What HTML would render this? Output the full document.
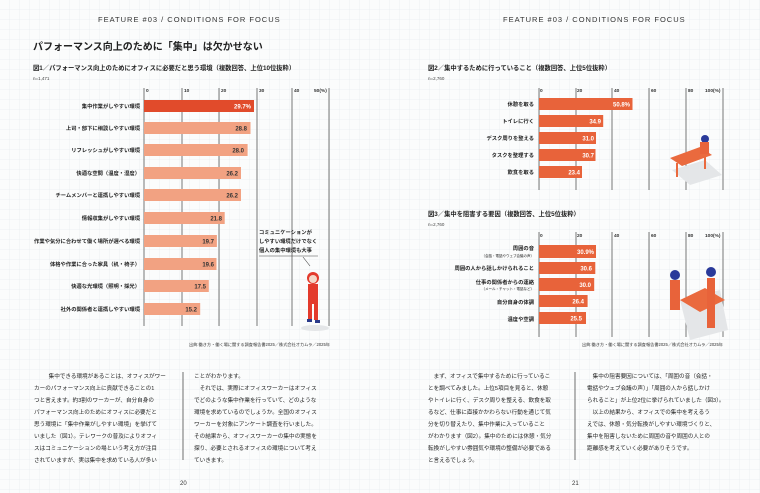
<!DOCTYPE html>
<html><head><meta charset="utf-8"><style>
html,body{margin:0;padding:0;}
body{width:760px;height:493px;overflow:hidden;background:#fbfcfc;}
svg{display:block;font-family:"Liberation Sans","Noto Sans CJK JP",sans-serif;}
</style></head><body>
<svg width="760" height="493" viewBox="0 0 760 493" xmlns="http://www.w3.org/2000/svg">
<defs>
<pattern id="g" width="10" height="10" patternUnits="userSpaceOnUse">
<rect width="10" height="10" fill="#fbfcfc"/>
<path d="M10 0V10M0 10H10" stroke="#e9eef0" stroke-width="0.8"/>
</pattern>
</defs>
<rect width="760" height="493" fill="url(#g)"/>

<!-- headers -->
<text x="98" y="22" font-size="7.5" letter-spacing="1" fill="#333">FEATURE #03 / CONDITIONS FOR FOCUS</text>
<text x="503" y="22" font-size="7.5" letter-spacing="1" fill="#333">FEATURE #03 / CONDITIONS FOR FOCUS</text>
<text x="33" y="50" font-size="10" font-weight="bold" fill="#222">パフォーマンス向上のために「集中」は欠かせない</text>

<!-- Chart 1 -->
<text x="33" y="70" font-size="6.3" font-weight="bold" fill="#222">図1／パフォーマンス向上のためにオフィスに必要だと思う環境（複数回答、上位10位抜粋）</text>
<text x="33" y="80" font-size="4.5" fill="#444">n=1,471</text>
<g stroke="#777" stroke-width="1">
<line x1="144" y1="88" x2="144" y2="326"/><line x1="182" y1="88" x2="182" y2="326"/>
<line x1="219" y1="88" x2="219" y2="326"/><line x1="257" y1="88" x2="257" y2="326"/>
<line x1="292" y1="88" x2="292" y2="326"/><line x1="329" y1="88" x2="329" y2="326"/>
</g>
<g font-size="4.8" font-weight="bold" fill="#333">
<text x="146" y="92">0</text><text x="184" y="92">10</text><text x="221" y="92">20</text>
<text x="259" y="92">30</text><text x="294" y="92">40</text><text x="314" y="92">50(%)</text>
</g>
<rect x="144" y="100" width="110" height="12" fill="#e14b2b"/>
<g fill="#f2a282">
<rect x="144" y="122" width="106.5" height="12"/>
<rect x="144" y="144" width="103.6" height="12"/>
<rect x="144" y="167" width="97" height="12"/>
<rect x="144" y="189" width="97" height="12"/>
<rect x="144" y="212" width="80.7" height="12"/>
<rect x="144" y="235" width="72.9" height="12"/>
<rect x="144" y="258" width="72.5" height="12"/>
<rect x="144" y="280" width="64.8" height="12"/>
<rect x="144" y="303" width="56.2" height="12"/>
</g>
<g font-size="6" font-weight="bold" text-anchor="end">
<text x="251" y="108.5" fill="#fff">29.7%</text>
<g fill="#333">
<text x="247" y="130.5">28.8</text><text x="244" y="152.5">28.0</text>
<text x="238" y="175.5">26.2</text><text x="238" y="197.5">26.2</text>
<text x="222" y="220.5">21.8</text><text x="214" y="243.5">19.7</text>
<text x="214" y="266.5">19.6</text><text x="206" y="288.5">17.5</text>
<text x="197" y="311.5">15.2</text>
</g></g>
<g font-size="5.3" font-weight="bold" fill="#222" text-anchor="end">
<text x="140" y="108">集中作業がしやすい環境</text>
<text x="140" y="130">上司・部下に相談しやすい環境</text>
<text x="140" y="152">リフレッシュがしやすい環境</text>
<text x="140" y="175">快適な空間（温度・湿度）</text>
<text x="140" y="197">チームメンバーと連携しやすい環境</text>
<text x="140" y="220">情報収集がしやすい環境</text>
<text x="140" y="243">作業や気分に合わせて働く場所が選べる環境</text>
<text x="140" y="266">体格や作業に合った家具（机・椅子）</text>
<text x="140" y="288">快適な光環境（照明・採光）</text>
<text x="140" y="311">社外の関係者と連携しやすい環境</text>
</g>
<g font-size="5.3" font-weight="bold" fill="#222">
<text x="259" y="234">コミュニケーションが</text>
<text x="259" y="243">しやすい環境だけでなく</text>
<text x="259" y="252">個人の集中環境も大事</text>
</g>
<line x1="259" y1="256" x2="318" y2="256" stroke="#444" stroke-width="0.6"/>
<line x1="303" y1="257" x2="310" y2="266" stroke="#444" stroke-width="0.6"/>
<ellipse cx="315" cy="328" rx="14" ry="3" fill="#e4e6e8"/>
<circle cx="313" cy="278" r="6" fill="#e33a2c"/><circle cx="313" cy="279" r="4" fill="#f4d8c8"/>
<rect x="308" y="284" width="10" height="20" fill="#e33a2c"/>
<rect x="308" y="304" width="4" height="16" fill="#e33a2c"/><rect x="314" y="304" width="4" height="16" fill="#e33a2c"/>
<rect x="307" y="319" width="5" height="3" fill="#2a3a8a"/><rect x="315" y="320" width="5" height="3" fill="#2a3a8a"/>
<text x="330" y="346" font-size="4.2" fill="#333" text-anchor="end">出典:働き方・働く場に関する調査報告書2025／株式会社オカムラ／2025年</text>

<!-- Chart 2 -->
<text x="428" y="70" font-size="6.3" font-weight="bold" fill="#222">図2／集中するために行っていること（複数回答、上位5位抜粋）</text>
<text x="428" y="80" font-size="4.5" fill="#444">n=2,760</text>
<g stroke="#777" stroke-width="1">
<line x1="539" y1="88" x2="539" y2="190"/><line x1="576" y1="88" x2="576" y2="190"/>
<line x1="612" y1="88" x2="612" y2="190"/><line x1="649" y1="88" x2="649" y2="190"/>
<line x1="686" y1="88" x2="686" y2="190"/><line x1="723" y1="88" x2="723" y2="190"/>
</g>
<g font-size="4.8" font-weight="bold" fill="#333">
<text x="540" y="92">0</text><text x="577" y="92">20</text><text x="614" y="92">40</text>
<text x="651" y="92">60</text><text x="688" y="92">80</text><text x="705" y="92">100(%)</text>
</g>
<g fill="#e8633a">
<rect x="539" y="98" width="93.5" height="12"/>
<rect x="539" y="115" width="64.2" height="12"/>
<rect x="539" y="132" width="57" height="12"/>
<rect x="539" y="149" width="56.5" height="12"/>
<rect x="539" y="166" width="43" height="12"/>
</g>
<g font-size="6" font-weight="bold" fill="#fff" text-anchor="end">
<text x="630" y="106.5">50.8%</text><text x="601" y="123.5">34.9</text>
<text x="594" y="140.5">31.0</text><text x="594" y="157.5">30.7</text><text x="580" y="174.5">23.4</text>
</g>
<g font-size="5.3" font-weight="bold" fill="#222" text-anchor="end">
<text x="534" y="106">休憩を取る</text><text x="534" y="123">トイレに行く</text>
<text x="534" y="140">デスク周りを整える</text><text x="534" y="157">タスクを整理する</text>
<text x="534" y="174">飲食を取る</text>
</g>
<polygon points="672,170 705,160 722,175 690,185" fill="#e4e6e8"/>
<polygon points="670,158 700,147 712,155 682,166" fill="#ea6a3e"/>
<rect x="676" y="163" width="2" height="14" fill="#ea6a3e"/><rect x="704" y="155" width="2" height="14" fill="#ea6a3e"/>
<circle cx="705" cy="139" r="4" fill="#2a3a9a"/><rect x="700" y="142" width="9" height="12" fill="#e8633a"/>

<!-- Chart 3 -->
<text x="428" y="216" font-size="6.3" font-weight="bold" fill="#222">図3／集中を阻害する要因（複数回答、上位5位抜粋）</text>
<text x="428" y="226" font-size="4.5" fill="#444">n=2,760</text>
<g stroke="#777" stroke-width="1">
<line x1="539" y1="232" x2="539" y2="337"/><line x1="576" y1="232" x2="576" y2="337"/>
<line x1="612" y1="232" x2="612" y2="337"/><line x1="649" y1="232" x2="649" y2="337"/>
<line x1="686" y1="232" x2="686" y2="337"/><line x1="723" y1="232" x2="723" y2="337"/>
</g>
<g font-size="4.8" font-weight="bold" fill="#333">
<text x="540" y="237">0</text><text x="577" y="237">20</text><text x="614" y="237">40</text>
<text x="651" y="237">60</text><text x="688" y="237">80</text><text x="705" y="237">100(%)</text>
</g>
<g fill="#e8633a">
<rect x="539" y="245" width="57" height="13"/>
<rect x="539" y="262" width="56.3" height="12"/>
<rect x="539" y="278" width="55.2" height="13"/>
<rect x="539" y="295" width="48.6" height="12"/>
<rect x="539" y="312" width="47" height="12"/>
</g>
<g font-size="6" font-weight="bold" fill="#fff" text-anchor="end">
<text x="594" y="254">30.9%</text><text x="592" y="270.5">30.6</text>
<text x="591" y="287">30.0</text><text x="584" y="303.5">26.4</text><text x="582" y="320.5">25.5</text>
</g>
<g font-size="5.3" font-weight="bold" fill="#222" text-anchor="end">
<text x="534" y="250">周囲の音</text>
<text x="534" y="257" font-size="3.5" font-weight="normal">（会話・電話やウェブ会議の声）</text>
<text x="534" y="270">周囲の人から話しかけられること</text>
<text x="534" y="284">仕事の関係者からの連絡</text>
<text x="534" y="290" font-size="3.5" font-weight="normal">（メール・チャット・電話など）</text>
<text x="534" y="304">自分自身の体調</text>
<text x="534" y="321">温度や空調</text>
</g>
<polygon points="680,300 720,290 728,330 690,340" fill="#e4e6e8"/>
<polygon points="680,300 705,288 725,300 700,312" fill="#ea6a3e"/>
<rect x="670" y="280" width="10" height="30" fill="#e8633a"/><circle cx="675" cy="275" r="5" fill="#2a3a9a"/>
<rect x="707" y="278" width="8" height="50" fill="#e8633a"/><circle cx="711" cy="272" r="5" fill="#2a3a9a"/>
<text x="723" y="346" font-size="4.2" fill="#333" text-anchor="end">出典:働き方・働く場に関する調査報告書2025／株式会社オカムラ／2025年</text>

<!-- body text left -->
<line x1="183" y1="372" x2="183" y2="460" stroke="#333" stroke-width="0.7"/>
<g font-size="5.6" fill="#222">
<text x="43" y="378">　集中できる環境があることは、オフィスがワー</text>
<text x="34" y="390">カーのパフォーマンス向上に貢献できることの1</text>
<text x="34" y="402">つと言えます。約3割のワーカーが、自分自身の</text>
<text x="34" y="414">パフォーマンス向上のためにオフィスに必要だと</text>
<text x="34" y="426">思う環境に「集中作業がしやすい環境」を挙げて</text>
<text x="34" y="438">いました（図1）。テレワークの普及によりオフィ</text>
<text x="34" y="450">スはコミュニケーションの場という考え方が注目</text>
<text x="34" y="462">されていますが、実は集中を求めている人が多い</text>
<text x="194" y="378">ことがわかります。</text>
<text x="194" y="390">　それでは、実際にオフィスワーカーはオフィス</text>
<text x="194" y="402">でどのような集中作業を行っていて、どのような</text>
<text x="194" y="414">環境を求めているのでしょうか。全国のオフィス</text>
<text x="194" y="426">ワーカーを対象にアンケート調査を行いました。</text>
<text x="194" y="438">その結果から、オフィスワーカーの集中の実態を</text>
<text x="194" y="450">探り、必要とされるオフィスの環境について考え</text>
<text x="194" y="462">ていきます。</text>
</g>
<text x="180" y="485" font-size="6" fill="#333">20</text>

<!-- body text right -->
<line x1="575" y1="372" x2="575" y2="460" stroke="#333" stroke-width="0.7"/>
<g font-size="5.6" fill="#222">
<text x="428" y="378">　まず、オフィスで集中するために行っているこ</text>
<text x="428" y="390">とを調べてみました。上位5項目を見ると、休憩</text>
<text x="428" y="402">やトイレに行く、デスク周りを整える、飲食を取</text>
<text x="428" y="414">るなど、仕事に直接かかわらない行動を通じて気</text>
<text x="428" y="426">分を切り替えたり、集中作業に入っていること</text>
<text x="428" y="438">がわかります（図2）。集中のためには休憩・気分</text>
<text x="428" y="450">転換がしやすい雰囲気や環境の整備が必要である</text>
<text x="428" y="462">と言えるでしょう。</text>
<text x="587" y="378">　集中の阻害要因については、「周囲の音（会話・</text>
<text x="587" y="390">電話やウェブ会議の声）」「周囲の人から話しかけ</text>
<text x="587" y="402">られること」が上位2位に挙げられていました（図3）。</text>
<text x="587" y="414">　以上の結果から、オフィスでの集中を考えるう</text>
<text x="587" y="426">えでは、休憩・気分転換がしやすい環境づくりと、</text>
<text x="587" y="438">集中を阻害しないために周囲の音や周囲の人との</text>
<text x="587" y="450">距離感を考えていく必要がありそうです。</text>
</g>
<text x="572" y="485" font-size="6" fill="#333">21</text>
</svg>
</body></html>
